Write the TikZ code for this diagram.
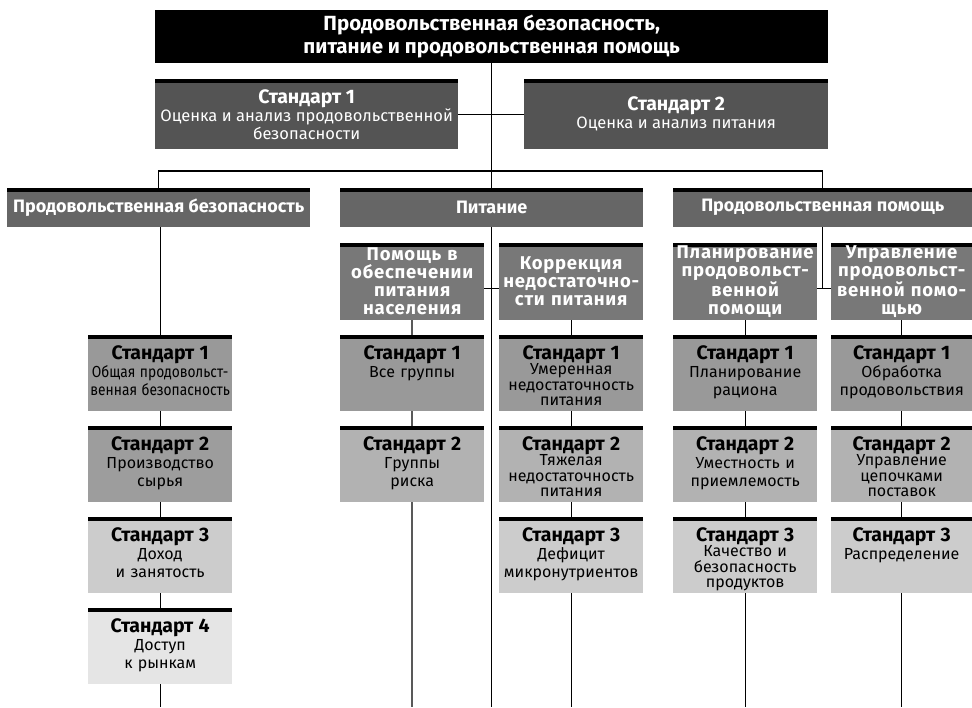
\documentclass[tikz,border=0pt]{standalone}
\usepackage{fontspec}
\setmainfont{Fira Sans}
\usepackage{graphicx}

\definecolor{stdtop}{gray}{0.33}
\definecolor{areagrey}{gray}{0.40}
\definecolor{subgrey}{gray}{0.47}
\definecolor{stdone}{gray}{0.60}
\definecolor{stdtwo}{gray}{0.70}
\definecolor{stdthree}{gray}{0.80}
\definecolor{stdfour}{gray}{0.90}

\newcommand{\narrowtext}[1]{\scalebox{0.86}[1]{#1}}
\newcommand{\stdhead}[1]{{\bfseries\fontsize{19.5}{18}\selectfont #1}}

\tikzset{
  topbar/.style={path picture={\fill[black] (path picture bounding box.north west) rectangle ([yshift=-4pt]path picture bounding box.north east);}},
  titlebox/.style={rectangle, fill=black, text=white, align=center, inner sep=0pt, anchor=north west,
    font=\bfseries\fontsize{20.5}{23}\selectfont},
  topstd/.style={rectangle, fill=stdtop, text=white, topbar, align=center, inner sep=0pt, anchor=north west,
    minimum height=70, font=\fontsize{16.5}{18}\selectfont},
  areabox/.style={rectangle, fill=areagrey, text=white, topbar, align=center, inner sep=0pt, anchor=north west,
    minimum height=39, font=\bfseries\fontsize{18}{19}\selectfont},
  subbox/.style={rectangle, fill=subgrey, text=white, topbar, align=center, inner sep=0pt, anchor=north west,
    minimum height=77, text width=#1, font=\bfseries\fontsize{18.5}{18}\selectfont\addfontfeature{LetterSpace=4}},
  subbox/.default=144,
  stdbox/.style={rectangle, fill=#1, topbar, align=center, inner sep=0pt, anchor=north west,
    text width=144, text height=24, text depth=52, font=\fontsize{16}{18}\selectfont},
  stdnarrow/.style={stdbox=#1, text width=141},
  stdtight/.style={font=\fontsize{16}{15.5}\selectfont},
  link/.style={draw=black, line width=1.1pt},
  greylink/.style={draw=black!65, line width=1.5pt}
}

\begin{document}
\begin{tikzpicture}[x=1pt,y=-1pt]
  \useasboundingbox (0,0) rectangle (972,707);
  \coordinate (bottom) at (0,707);
  \coordinate (bus) at (491.5,171);

  % head
  \node[titlebox, minimum width=673, minimum height=53] (title) at (155,10)
    {Продовольственная безопасность,\\питание и продовольственная помощь};
  \node[topstd, minimum width=303] (assessA) at (155,79)
    {\stdhead{Стандарт 1}\\Оценка и анализ продовольственной\\безопасности};
  \node[topstd, minimum width=304] (assessB) at (524,79)
    {\stdhead{Стандарт 2}\\Оценка и анализ питания};

  % three areas
  \node[areabox, minimum width=303] (food) at (7,188) {Продовольственная безопасность};
  \node[areabox, minimum width=303] (nutr) at (340,188) {Питание};
  \node[areabox, minimum width=299] (aid) at (673,188) {Продовольственная помощь};

  % sub-areas
  \node[subbox] (nutrA) at (340,243) {Помощь в\\обеспечении\\питания\\населения};
  \node[subbox] (nutrB) at (499,243) {Коррекция\\недостаточно-\\сти питания};
  \node[subbox] (aidA) at (673,243) {Планирование\\продовольст-\\венной\\помощи};
  \node[subbox=141] (aidB) at (831,243) {Управление\\продовольст-\\венной помо-\\щью};

  % food security standards
  \node[stdbox=stdone] (foodA) at (88,335)
    {\stdhead{Стандарт 1}\\\narrowtext{Общая продовольст-}\\\narrowtext{венная безопасность}};
  \node[stdbox=stdone!85!stdtwo] (foodB) at (88,426) {\stdhead{Стандарт 2}\\Производство\\сырья};
  \node[stdbox=stdthree] (foodC) at (88,517) {\stdhead{Стандарт 3}\\Доход\\и занятость};
  \node[stdbox=stdfour] (foodD) at (88,608) {\stdhead{Стандарт 4}\\Доступ\\к рынкам};

  % nutrition standards
  \node[stdbox=stdone] (nA1) at (340,335) {\stdhead{Стандарт 1}\\Все группы};
  \node[stdbox=stdtwo] (nA2) at (340,426) {\stdhead{Стандарт 2}\\Группы\\риска};
  \node[stdbox=stdone, stdtight] (nB1) at (499,335)
    {\stdhead{Стандарт 1}\\Умеренная\\недостаточность\\питания};
  \node[stdbox=stdtwo, stdtight] (nB2) at (499,426)
    {\stdhead{Стандарт 2}\\Тяжелая\\недостаточность\\питания};
  \node[stdbox=stdthree] (nB3) at (499,517) {\stdhead{Стандарт 3}\\Дефицит\\микронутриентов};

  % food aid standards
  \node[stdbox=stdone] (aA1) at (673,335) {\stdhead{Стандарт 1}\\Планирование\\рациона};
  \node[stdbox=stdtwo] (aA2) at (673,426) {\stdhead{Стандарт 2}\\Уместность и\\приемлемость};
  \node[stdbox=stdthree, stdtight] (aA3) at (673,517)
    {\stdhead{Стандарт 3}\\Качество и\\безопасность\\продуктов};
  \node[stdnarrow=stdone] (aB1) at (831,335) {\stdhead{Стандарт 1}\\Обработка\\продовольствия};
  \node[stdnarrow=stdtwo, stdtight] (aB2) at (831,426)
    {\stdhead{Стандарт 2}\\Управление\\цепочками\\поставок};
  \node[stdnarrow=stdthree] (aB3) at (831,517) {\stdhead{Стандарт 3}\\Распределение};

  % connectors
  \draw[link] (title.south) -- (nutr.north);
  \draw[link] (assessA.east) -- (assessA.east -| title.south);
  \draw[link] (assessB.west) -- (assessB.west -| title.south);
  \draw[link] (food.north) -- (food.north |- bus) -- (aid.north |- bus) -- (aid.north);
  \draw[link] (foodA.north |- food.south) -- (foodA.north);
  \draw[link] ([yshift=-7pt]nutrA.east) -- ([yshift=-7pt]nutrB.west);
  \draw[link] ([yshift=-7pt]aidA.east) -- ([yshift=-7pt]aidB.west);
  \draw[link] (aid.south) -- ([yshift=-7pt]aidA.east -| aid.south);
  \foreach \a/\b in {foodA/foodB, foodB/foodC, foodC/foodD, nutrB/nB1, nB1/nB2, nB2/nB3,
                     aidA/aA1, aA1/aA2, aA2/aA3, aidB/aB1, aB1/aB2, aB2/aB3}
    \draw[link] (\a.south) -- (\b.north);
  \foreach \a/\b in {nutrA/nA1, nA1/nA2}
    \draw[greylink] (\a.south) -- (\b.north);
  \draw[greylink] (nA2.south) -- (nA2.south |- bottom);
  \foreach \n in {foodD, nB3, aA3, aB3, nutr}
    \draw[link] (\n.south) -- (\n.south |- bottom);
\end{tikzpicture}
\end{document}
